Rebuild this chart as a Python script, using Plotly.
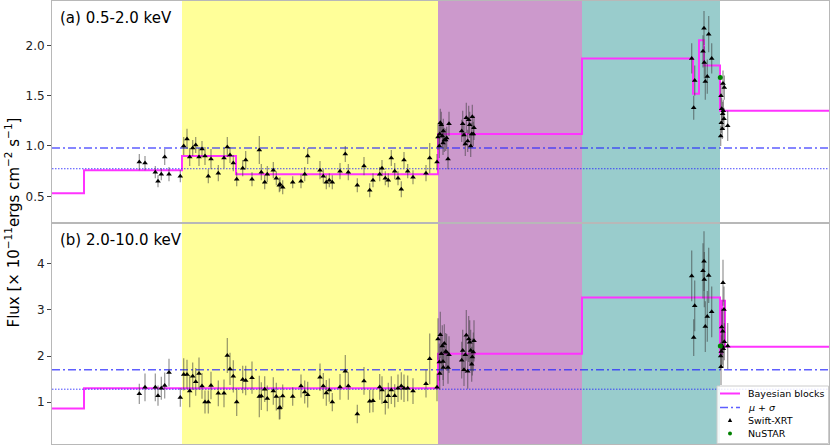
import plotly.graph_objects as go

# ---------------- data ----------------
# observation times (arbitrary day units)
t_pre = [139.3, 145, 155.3, 158, 161.3, 164.7, 169, 180.3]
t_yel = [183.7, 187, 189.7, 192.7, 195.7, 199, 202, 205, 208.3, 211, 218.3, 224, 227.3, 230,
         233.3, 236.7, 242.7, 245.7, 252, 259.3, 261.3, 264.7, 267.3, 273.3, 276.3, 279.3,
         280, 282.7, 292.7, 301, 304.7, 307.7, 320, 323.3, 326.3, 329.3, 332.3, 340, 345.3,
         348.3, 357.3, 364, 369.7, 373, 379.7, 382, 385.3, 388.3, 391.3, 394.7, 398, 401.3,
         404, 407.7, 413, 426, 429.7, 437]
t_pur = [438, 439.3, 439.7, 440.3, 441.3, 442.3, 443, 443.3, 444.3, 445.7, 446.7, 448, 449,
         461.7, 462.7, 464, 465.3, 466.3, 467.7, 468.7, 469.7, 470.7, 471.7, 472.3, 473.3, 474]
t_teal = [691.7, 694.7, 693.7, 703, 704, 704.3, 705.3, 707.3, 708.7, 711.7]
t_post = [720.7, 721, 721.3, 721.7, 722.3, 722.7, 723, 723.3, 724, 724.3, 727.7]
t_swift = t_pre + t_yel + t_pur + t_teal + t_post

# (a) 0.5-2.0 keV flux
flux_soft = ([0.84, 0.83, 0.74, 0.65, 0.72, 0.89, 0.72, 0.70] +
             [1.00, 1.07, 0.89, 0.98, 1.01, 0.89, 0.97, 0.90, 0.70, 0.87, 0.73, 0.88, 0.99, 0.91,
              0.83, 0.67, 0.78, 0.86, 0.67, 0.96, 0.74, 0.64, 0.72, 0.76, 0.68, 0.61,
              0.62, 0.59, 0.64, 0.65, 0.72, 0.90, 0.76, 0.70, 0.64, 0.66, 0.64, 0.75, 0.92,
              0.74, 0.61, 0.80, 0.56, 0.66, 0.72, 0.78, 0.68, 0.66, 0.88, 0.75, 0.68, 0.57,
              0.86, 0.75, 0.69, 0.73, 0.88, 0.84] +
             [1.09, 1.00, 1.12, 1.23, 1.21, 1.10, 1.03, 1.15, 1.06, 1.06, 1.08, 0.87, 1.22,
              1.15, 1.22, 1.11, 1.02, 1.28, 1.05, 1.26, 1.21, 1.00, 1.12, 1.29, 1.12, 1.18] +
             [1.87, 1.65, 1.38, 1.94, 2.17, 1.83, 1.64, 1.69, 2.11, 1.87] +
             [1.10, 1.50, 1.23, 1.37, 1.17, 1.32, 1.62, 1.35, 1.27, 1.58, 1.20])
err_soft = ([0.08, 0.07, 0.06, 0.06, 0.06, 0.08, 0.07, 0.06] +
            [0.09, 0.10, 0.09, 0.08, 0.08, 0.09, 0.08, 0.09, 0.07, 0.10, 0.08, 0.10, 0.10, 0.08,
             0.08, 0.07, 0.08, 0.09, 0.07, 0.14, 0.08, 0.07, 0.08, 0.08, 0.07, 0.07,
             0.07, 0.07, 0.06, 0.07, 0.07, 0.08, 0.09, 0.07, 0.07, 0.07, 0.07, 0.08, 0.08,
             0.08, 0.07, 0.09, 0.07, 0.07, 0.07, 0.08, 0.07, 0.07, 0.08, 0.08, 0.07, 0.08,
             0.08, 0.07, 0.07, 0.08, 0.15, 0.08] +
            [0.13, 0.12, 0.12, 0.14, 0.13, 0.12, 0.12, 0.12, 0.12, 0.11, 0.11, 0.10, 0.12,
             0.11, 0.13, 0.11, 0.12, 0.15, 0.11, 0.14, 0.13, 0.11, 0.11, 0.12, 0.12, 0.12] +
            [0.15, 0.15, 0.12, 0.16, 0.17, 0.16, 0.18, 0.17, 0.18, 0.15] +
            [0.10, 0.13, 0.10, 0.11, 0.10, 0.12, 0.13, 0.11, 0.11, 0.12, 0.15])

# (b) 2.0-10.0 keV flux
flux_hard = ([1.18, 1.32, 1.32, 1.14, 1.30, 1.36, 1.64, 1.10] +
             [1.60, 1.60, 1.24, 1.56, 1.44, 1.62, 1.35, 1.00, 1.00, 1.36, 1.19, 1.19, 2.01, 1.72,
              1.56, 1.00, 1.49, 1.47, 1.53, 1.12, 1.13, 1.28, 1.08, 1.24, 1.12, 0.87,
              0.88, 1.13, 1.12, 1.35, 1.22, 1.16, 1.54, 1.35, 1.20, 1.26, 1.00, 1.33, 1.67,
              1.35, 0.74, 1.46, 1.02, 1.03, 1.33, 1.26, 1.01, 1.14, 1.26, 1.14, 1.30, 1.35,
              1.30, 1.30, 1.24, 1.40, 1.94, 1.32] +
             [2.37, 1.87, 1.62, 2.46, 2.05, 2.22, 1.88, 1.75, 2.27, 2.10, 2.08, 1.75, 2.03,
              1.91, 2.12, 1.70, 2.03, 2.45, 1.67, 2.37, 2.30, 2.12, 1.82, 1.98, 2.09, 2.33] +
             [3.74, 3.09, 2.40, 3.85, 4.06, 3.66, 2.64, 2.86, 3.75, 2.96] +
             [2.00, 1.77, 2.10, 2.63, 2.21, 2.54, 3.59, 2.16, 3.01, 2.31, 2.22])
err_hard = ([0.22, 0.30, 0.30, 0.22, 0.25, 0.28, 0.30, 0.20] +
            [0.35, 0.32, 0.35, 0.30, 0.30, 0.35, 0.28, 0.25, 0.25, 0.30, 0.28, 0.30, 0.38, 0.35,
             0.35, 0.30, 0.30, 0.32, 0.35, 0.45, 0.30, 0.28, 0.28, 0.30, 0.30, 0.25,
             0.25, 0.25, 0.20, 0.25, 0.25, 0.28, 0.30, 0.28, 0.28, 0.25, 0.20, 0.28, 0.35,
             0.30, 0.20, 0.30, 0.25, 0.25, 0.28, 0.30, 0.28, 0.28, 0.30, 0.25, 0.30, 0.30,
             0.30, 0.28, 0.28, 0.30, 0.55, 0.30] +
            [0.45, 0.40, 0.35, 0.50, 0.45, 0.45, 0.40, 0.40, 0.42, 0.40, 0.40, 0.35, 0.40,
             0.40, 0.45, 0.35, 0.40, 0.55, 0.38, 0.50, 0.48, 0.45, 0.38, 0.40, 0.42, 0.45] +
            [0.55, 0.55, 0.40, 0.60, 0.65, 0.60, 0.55, 0.55, 0.60, 0.55] +
            [0.30, 0.40, 0.35, 0.40, 0.40, 0.45, 0.50, 0.40, 0.50, 0.40, 0.50])

# NuSTAR
t_nustar = [720.3]
nustar_soft = [1.68]
nustar_hard = [2.22]

# Bayesian blocks (edges and block levels)
bb_edges_soft = [52, 84, 182, 236, 438, 582, 693, 699, 704, 720, 829]
bb_soft = [0.53, 0.76, 0.90, 0.72, 1.12, 1.87, 1.52, 2.05, 1.80, 1.35]
bb_edges_hard = [52, 84, 438, 582, 720, 722, 725, 829]
bb_hard = [0.86, 1.30, 2.05, 3.27, 2.05, 3.20, 2.20]

# mean and mean+sigma
mu_soft, musig_soft = 0.774, 0.98
mu_hard, musig_hard = 1.28, 1.70

# shaded periods
span_edges = [182, 438, 582, 720]
span_colors = ["#ffff99", "#cc99cc", "#99cccc"]

x_range = [52, 829]

legend_labels = ["Bayesian blocks", "<i>μ</i> + <i>σ</i>", "Swift-XRT", "NuSTAR"]

# ---------------- figure ----------------
fig = go.Figure()
FONT = "DejaVu Sans"
MAG = "#ff33ff"
BLUE = "rgba(40,40,255,0.75)"
DASHDOT = "8px,3px,2px,3px"

panels = [
    ("x", "y", flux_soft, err_soft, nustar_soft, bb_edges_soft, bb_soft, mu_soft, musig_soft),
    ("x2", "y2", flux_hard, err_hard, nustar_hard, bb_edges_hard, bb_hard, mu_hard, musig_hard),
]
for xa, ya, fl, er, ns, edges, levels, mu, musig in panels:
    fig.add_trace(go.Scatter(x=edges, y=levels + [levels[-1]], mode="lines", line_shape="hv",
                             line=dict(color=MAG, width=2), name="Bayesian blocks",
                             showlegend=False, xaxis=xa, yaxis=ya))
    fig.add_trace(go.Scatter(x=x_range, y=[musig, musig], mode="lines",
                             line=dict(color=BLUE, width=1.5, dash=DASHDOT),
                             name="μ + σ", showlegend=False, xaxis=xa, yaxis=ya))
    fig.add_trace(go.Scatter(x=x_range, y=[mu, mu], mode="lines",
                             line=dict(color="rgba(40,40,255,0.85)", width=1, dash="1.5px,1.5px"),
                             name="μ", showlegend=False, xaxis=xa, yaxis=ya))
    fig.add_trace(go.Scatter(x=t_swift, y=fl, mode="markers", name="Swift-XRT",
                             marker=dict(symbol="triangle-up", size=5, color="black"),
                             error_y=dict(type="data", array=er, color="rgba(60,60,60,0.55)",
                                          thickness=1.2, width=0),
                             showlegend=False, xaxis=xa, yaxis=ya))
    fig.add_trace(go.Scatter(x=t_nustar, y=ns, mode="markers", name="NuSTAR",
                             marker=dict(symbol="circle", size=5, color="green"),
                             showlegend=False, xaxis=xa, yaxis=ya))

for i, c in enumerate(span_colors):
    fig.add_shape(type="rect", xref="x", yref="paper", x0=span_edges[i], x1=span_edges[i + 1],
                  y0=0, y1=1, fillcolor=c, line_width=0, layer="below")

# ---- compact legend box (bottom right of panel b) ----
def px(xp):
    return (xp - 52) / 777.0


def py(yp):
    return (444 - yp) / 443.0


fig.add_shape(type="rect", xref="paper", yref="paper", x0=px(717), x1=px(828.5),
              y0=py(443.5), y1=py(386), fillcolor="rgba(255,255,255,0.85)",
              line=dict(color="#cccccc", width=1), layer="above")
rows = [393.5, 407.5, 420.5, 433.5]
fig.add_shape(type="line", xref="paper", yref="paper", x0=px(720), x1=px(740),
              y0=py(rows[0]), y1=py(rows[0]), line=dict(color=MAG, width=2), layer="above")
fig.add_shape(type="line", xref="paper", yref="paper", x0=px(720), x1=px(740),
              y0=py(rows[1]), y1=py(rows[1]), line=dict(color=BLUE, width=1.5, dash=DASHDOT),
              layer="above")
fig.add_shape(type="path", xref="paper", yref="paper", xsizemode="pixel", ysizemode="pixel",
              xanchor=px(730), yanchor=py(rows[2]), path="M -2.2 -1.6 L 2.2 -1.6 L 0 2.4 Z",
              fillcolor="black", line_width=0, layer="above")
fig.add_shape(type="circle", xref="paper", yref="paper", xsizemode="pixel", ysizemode="pixel",
              xanchor=px(730), yanchor=py(rows[3]), x0=-2, x1=2, y0=-2, y1=2,
              fillcolor="green", line_width=0, layer="above")
for lab, r in zip(legend_labels, rows):
    fig.add_annotation(text=lab, xref="paper", yref="paper", x=px(746), y=py(r),
                       xanchor="left", yanchor="middle", showarrow=False,
                       font=dict(size=9.5, color="black"))

axis_common = dict(showgrid=False, zeroline=False, showline=True, linecolor="#b8b8b8",
                   linewidth=1, mirror=True)
fig.update_layout(
    width=830, height=446,
    margin=dict(l=52, r=1, t=1, b=2),
    paper_bgcolor="white", plot_bgcolor="white",
    font=dict(family=FONT, size=12, color="#222"),
    xaxis=dict(domain=[0, 1], range=x_range, anchor="y", showticklabels=False, ticks="",
               **axis_common),
    xaxis2=dict(domain=[0, 1], range=x_range, anchor="y2", matches="x", showticklabels=False,
                ticks="", **axis_common),
    yaxis=dict(domain=[0.5, 1], range=[0.24, 2.44], tickvals=[0.5, 1.0, 1.5, 2.0],
               ticktext=["0.5", "1.0", "1.5", "2.0"], ticks="outside", ticklen=4,
               tickcolor="#444", tickfont=dict(size=12), anchor="x", **axis_common),
    yaxis2=dict(domain=[0, 0.5], range=[0.09, 4.9], tickvals=[1, 2, 3, 4],
                ticktext=["1", "2", "3", "4"], ticks="outside", ticklen=4,
                tickcolor="#444", tickfont=dict(size=12), anchor="x2", **axis_common),
    showlegend=False,
)

fig.add_annotation(text="(a) 0.5-2.0 keV", xref="paper", yref="paper", x=0.008, y=0.962,
                   xanchor="left", yanchor="middle", showarrow=False, font=dict(size=15, color="black"))
fig.add_annotation(text="(b) 2.0-10.0 keV", xref="paper", yref="paper", x=0.008, y=0.461,
                   xanchor="left", yanchor="middle", showarrow=False, font=dict(size=15, color="black"))
fig.add_annotation(text="Flux [× 10<sup>−11</sup>ergs cm<sup>−2</sup> s<sup>−1</sup>]",
                   xref="paper", yref="paper", x=-0.0515, y=0.5, xanchor="center",
                   yanchor="middle", textangle=-90, showarrow=False,
                   font=dict(size=15, color="black"))

fig.write_html("out.html", config={"displayModeBar": False},
               post_script="document.body.style.margin='0';")
